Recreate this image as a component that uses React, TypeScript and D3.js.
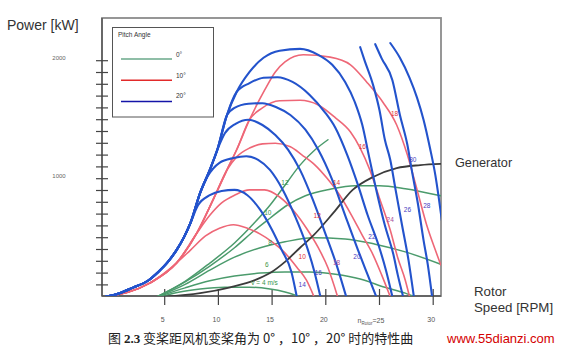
import React from "react";
import * as d3 from "d3";

type Pt = [number, number];

// ---------- axes ----------
const xTicks = [5, 10, 15, 20, 30];
const xTickRotor = 25;
const yMinorTicks = [100, 200, 300, 400, 500, 600, 700, 800, 900, 1000, 1100, 1200, 1300, 1400, 1500, 1600, 1700, 1800, 1900, 2000];
const yTickLabels = [1000, 2000];

// ---------- 20° pitch (blue) ----------
const blueRise: Pt[] = [[-0.5, 0], [0.8, 30], [2.0, 75], [3.4, 133], [4.4, 210], [5.3, 295], [6.1, 395], [6.8, 505], [7.4, 625], [8.3, 880], [9.2, 1075], [9.9, 1245], [10.8, 1540], [11.7, 1735], [12.9, 1905], [14.2, 2025]];
const blue14: Pt[] = [...blueRise.slice(0, 9), [8.1, 775], [9.2, 860], [10.3, 895], [11.5, 905], [12.7, 860], [13.9, 735], [15.0, 565], [15.9, 395], [16.8, 210], [17.3, 0]];
const blue16: Pt[] = [...blueRise.slice(0, 10), [9.0, 1020], [10.1, 1135], [11.4, 1175], [12.6, 1190], [13.7, 1160], [14.8, 1075], [16.0, 905], [17.1, 690], [18.1, 460], [18.9, 225], [19.5, 0]];
const blue18: Pt[] = [...blueRise.slice(0, 12), [10.6, 1385], [11.6, 1465], [12.8, 1500], [14.1, 1455], [15.3, 1370], [16.5, 1245], [17.6, 1075], [18.8, 820], [19.9, 550], [21.0, 270], [21.9, 0]];
const blue20: Pt[] = [...blueRise.slice(0, 13), [11.5, 1600], [12.8, 1635], [14.1, 1640], [15.4, 1605], [16.7, 1540], [18.1, 1415], [19.3, 1245], [20.6, 990], [21.8, 690], [23.0, 395], [23.9, 185], [24.7, 0]];
const blue22: Pt[] = [...blueRise.slice(0, 14), [12.9, 1810], [14.2, 1855], [15.5, 1860], [16.9, 1820], [18.5, 1710], [19.9, 1565], [20.9, 1430], [22.0, 1200], [23.0, 945], [23.9, 690], [24.9, 440], [25.6, 225], [26.2, 0]];
const blue24: Pt[] = [...blueRise.slice(0, 16), [15.7, 2085], [17.6, 2100], [19.3, 2050], [20.6, 1965], [21.8, 1820], [22.7, 1650], [23.4, 1455], [24.0, 1200], [24.7, 905], [25.5, 605], [26.3, 355], [26.7, 185], [27.2, 0]];
const blue26: Pt[] = [[23.2, 2115], [23.6, 2005], [24.4, 1795], [25.0, 1580], [25.5, 1330], [26.0, 1160], [26.5, 905], [27.1, 605], [27.7, 310], [28.2, 0]];
const blue28: Pt[] = [[24.6, 2140], [25.2, 2020], [26.2, 1835], [26.9, 1540], [27.6, 1285], [28.0, 1075], [28.6, 775], [29.1, 480], [29.5, 270], [29.9, 0]];
const blue30: Pt[] = [[26.0, 2150], [26.9, 2025], [27.8, 1855], [28.5, 1685], [29.1, 1500], [29.7, 1260], [30.2, 1030], [30.5, 850], [30.8, 650]];

// ---------- 10° pitch (red) ----------
const redRise: Pt[] = [[-0.5, 0], [3.6, 115], [6.1, 285], [8.0, 540], [9.5, 820], [10.8, 1075], [11.7, 1245], [12.9, 1500], [14.3, 1750]];
const red10: Pt[] = [...redRise.slice(0, 3), [7.4, 395], [8.8, 515], [10.1, 580], [11.4, 610], [12.7, 580], [13.9, 530], [15.0, 465], [16.1, 380], [17.3, 250], [18.2, 140], [18.9, 0]];
const red12: Pt[] = [...redRise.slice(0, 4), [9.2, 690], [10.3, 795], [11.5, 860], [12.9, 905], [14.3, 905], [15.7, 845], [17.1, 718], [18.2, 580], [19.3, 415], [20.2, 245], [21.1, 0]];
const red14: Pt[] = [...redRise.slice(0, 6), [11.7, 1185], [12.9, 1260], [14.1, 1295], [15.3, 1300], [16.7, 1270], [17.8, 1200], [19.0, 1115], [20.1, 1005], [21.3, 860], [22.4, 690], [23.4, 520], [24.4, 355], [25.2, 185], [26.0, 0]];
const red16: Pt[] = [...redRise.slice(0, 8), [14.1, 1600], [15.7, 1660], [17.6, 1665], [19.3, 1625], [20.9, 1515], [22.3, 1395], [23.2, 1260], [24.1, 1075], [25.0, 835], [26.0, 565], [26.7, 330], [27.4, 140], [27.8, 0]];
const red18: Pt[] = [...redRise.slice(0, 9), [15.3, 1905], [16.2, 1990], [17.9, 2050], [20.4, 2030], [22.3, 1965], [23.8, 1820], [25.3, 1650], [26.6, 1455], [27.6, 1200], [28.5, 905], [29.4, 605], [30.2, 395], [30.7, 270]];

// ---------- 0° pitch (green) ----------
const green4: Pt[] = [[4.6, 0], [6.4, 40], [8.3, 65], [10.6, 80], [12.9, 80], [14.8, 65], [16.2, 40], [17.6, 0]];
const green6: Pt[] = [[4.4, 0], [6.9, 75], [9.2, 135], [11.5, 175], [13.9, 200], [16.2, 210], [18.5, 210], [20.9, 190], [23.2, 150], [25.5, 80], [27.4, 30], [28.3, 0]];
const green8: Pt[] = [[4.3, 0], [6.9, 105], [9.2, 225], [11.5, 335], [13.9, 415], [16.2, 465], [18.8, 500], [21.8, 490], [24.6, 445], [27.4, 380], [30.7, 275]];
const green10: Pt[] = [[4.3, 0], [6.9, 125], [9.2, 260], [11.5, 415], [13.4, 565], [14.8, 665], [16.4, 775], [18.1, 855], [20.4, 910], [22.7, 940], [25.0, 940], [27.4, 915], [30.7, 855]];
const green12: Pt[] = [[4.3, 0], [6.9, 130], [9.2, 285], [11.5, 455], [13.4, 630], [14.8, 775], [16.2, 945], [17.6, 1115], [19.0, 1245], [20.2, 1330]];

// ---------- generator ----------
const generator: Pt[] = [[5.0, 0], [8.3, 30], [11.1, 80], [13.4, 140], [14.8, 200], [16.2, 295], [17.6, 415], [18.8, 515], [20.7, 710], [22.5, 905], [24.4, 1015], [26.6, 1090], [28.8, 1115], [30.7, 1125]];

// ---------- curve labels: [text, rpm, kW] ----------
const blueLabels: [string, number, number][] = [["14", 17.8, 100], ["16", 19.3, 200], ["20", 22.9, 335], ["22", 24.3, 505], ["26", 27.6, 735], ["28", 29.4, 775], ["30", 28.1, 1165]];
const mauveLabels: [string, number, number][] = [["18", 21.0, 285], ["24", 26.0, 650]];
const redLabels: [string, number, number][] = [["10", 17.8, 335], ["12", 19.2, 685], ["14", 21.0, 965], ["16", 23.4, 1270], ["18", 26.4, 1555]];
const greenLabels: [string, number, number][] = [["v = 4  m/s", 14.3, 115], ["6", 14.5, 270], ["8", 14.8, 455], ["10", 14.6, 710], ["12", 16.2, 965]];

const legendItems = ["0°", "10°", "20°"];

const BLUE = "#2353cc";
const RED = "#ee6777";
const GREEN = "#4b9b6c";
const BLACK = "#3b3b3b";
const FONT = "'Liberation Sans', Arial, sans-serif";

export default function App() {
  const x = d3.scaleLinear().domain([0, 30]).range([111, 433.2]);
  const y = d3.scaleLinear().domain([0, 2000]).range([296.7, 60.7]);
  const line = d3
    .line<Pt>()
    .x((d) => x(d[0]))
    .y((d) => y(d[1]))
    .curve(d3.curveMonotoneX);

  const L = 102, R = 441, T = 18, B = 296;

  const blues = [blue14, blue16, blue18, blue20, blue22, blue24, blue26, blue28, blue30];
  const reds = [red10, red12, red14, red16, red18];
  const greens = [green4, green6, green8, green10, green12];

  const legendColors = ["#6aa98a", "#e22a2a", "#1414a8"];

  return (
    <svg
      width={562}
      height={357}
      style={{ position: "absolute", left: 0, top: 0, background: "#fff" }}
      fontFamily={FONT}
    >
      <rect x={0} y={0} width={562} height={357} fill="#fff" />
      <defs>
        <clipPath id="plot">
          <rect x={L} y={T} width={R - L} height={B - T} />
        </clipPath>
      </defs>

      {/* frame */}
      <rect x={L} y={T} width={R - L} height={B - T} fill="none" stroke="#8c8c8c" strokeWidth={1.8} />
      <line x1={L} y1={T} x2={L} y2={B} stroke="#555" strokeWidth={1.4} />
      <line x1={L} y1={B} x2={R} y2={B} stroke="#555" strokeWidth={1.4} />

      {/* y ticks */}
      {yMinorTicks.map((v) => (
        <line key={v} x1={96} x2={108} y1={y(v)} y2={y(v)} stroke="#444" strokeWidth={1.2} />
      ))}
      {yTickLabels.map((v) => (
        <text key={v} x={59} y={y(v) - 1} fontSize={6} fill="#666" textAnchor="middle">
          {v}
        </text>
      ))}

      {/* x ticks */}
      {[...xTicks, xTickRotor].map((v) => (
        <line key={v} x1={x(v)} x2={x(v)} y1={289} y2={305} stroke="#444" strokeWidth={1.2} />
      ))}
      {xTicks.map((v) => (
        <text key={v} x={x(v) - 2} y={322} fontSize={7} fill="#555" textAnchor="middle">
          {v}
        </text>
      ))}
      <text x={x(xTickRotor) - 22} y={323} fontSize={7} fill="#555">
        n<tspan fontSize={4.5} dy={1.5}>Rotor</tspan>
        <tspan dy={-1.5}>={xTickRotor}</tspan>
      </text>

      {/* curves */}
      <g clipPath="url(#plot)" fill="none" strokeLinecap="round" strokeLinejoin="round">
        {greens.map((c, i) => (
          <path key={"g" + i} d={line(c) || ""} stroke={GREEN} strokeWidth={1.5} />
        ))}
        {reds.map((c, i) => (
          <path key={"r" + i} d={line(c) || ""} stroke={RED} strokeWidth={1.6} />
        ))}
        <path d={line(generator) || ""} stroke={BLACK} strokeWidth={1.8} />
        {blues.map((c, i) => (
          <path key={"b" + i} d={line(c) || ""} stroke={BLUE} strokeWidth={2.1} />
        ))}
      </g>

      {/* curve labels */}
      {blueLabels.map(([t, a, b]) => (
        <text key={"bl" + t} x={x(a)} y={y(b) + 2.3} fontSize={6.5} fill="#4a3cc0" textAnchor="middle">
          {t}
        </text>
      ))}
      {mauveLabels.map(([t, a, b]) => (
        <text key={"ml" + t} x={x(a)} y={y(b) + 2.3} fontSize={6.5} fill="#a64a9e" textAnchor="middle">
          {t}
        </text>
      ))}
      {redLabels.map(([t, a, b]) => (
        <text key={"rl" + t} x={x(a)} y={y(b) + 2.3} fontSize={6.5} fill="#dd3038" textAnchor="middle">
          {t}
        </text>
      ))}
      {greenLabels.map(([t, a, b]) => (
        <text key={"gl" + t} x={x(a)} y={y(b) + 2.3} fontSize={6.5} fill="#3a9448" textAnchor="middle">
          {t}
        </text>
      ))}

      {/* legend */}
      <rect x={112.5} y={27.5} width={101} height={89.5} fill="#fff" stroke="#555" strokeWidth={1} />
      <text x={118} y={37} fontSize={6.5} fill="#333">
        Pitch Angle
      </text>
      {legendItems.map((t, i) => (
        <g key={t}>
          <line x1={121} x2={172} y1={59 + i * 21.3} y2={59 + i * 21.3} stroke={legendColors[i]} strokeWidth={1.5} />
          <text x={176} y={57 + i * 20.5} fontSize={6.5} fill="#333">
            {t}
          </text>
        </g>
      ))}

      {/* axis titles */}
      <text x={7} y={30} fontSize={14} fill="#333">
        Power [kW]
      </text>
      <text x={455} y={167} fontSize={12.7} fill="#333">
        Generator
      </text>
      <text x={474} y={296} fontSize={13.3} fill="#333">
        Rotor
      </text>
      <text x={474} y={312} fontSize={13.3} fill="#333">
        Speed [RPM]
      </text>

      {/* caption */}
      <text x={108} y={343} fontSize={13} fill="#222" fontFamily="'Noto Sans CJK SC', sans-serif">
        图 <tspan fontWeight="bold" fontFamily="'Liberation Serif', serif">2.3</tspan> 变桨距风机变桨角为 0° ，10° ，20° 时的特性曲
      </text>
      <text x={447} y={343} fontSize={13} fill="#d40000" fontFamily={FONT}>
        www.55dianzi.com
      </text>
    </svg>
  );
}
